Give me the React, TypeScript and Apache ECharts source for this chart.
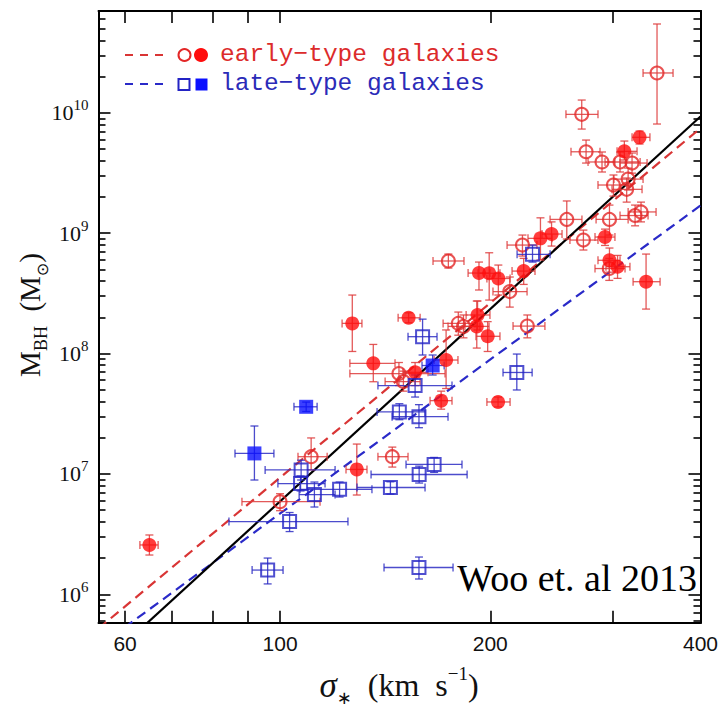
import React, { useEffect, useRef } from 'react';
import * as echarts from 'echarts';

// ---- axis ranges (km/s and solar masses) ----
const SIGMA_MIN = 54.96;
const SIGMA_MAX = 400;
const MBH_MIN = 5.81e5;
const MBH_MAX = 7.0e10;

const X_TICKS = [60, 70, 80, 90, 100, 200, 300, 400];
const X_LABELS = [60, 100, 200, 400];
const Y_MAJOR = [1e6, 1e7, 1e8, 1e9, 1e10];
const Y_MINOR_MULT = [2, 3, 4, 5, 6, 7, 8, 9];
const Y_DECADES = [1e5, 1e6, 1e7, 1e8, 1e9, 1e10];

// each row: [sigma, M_BH, sigmaLow, sigmaHigh, M_low, M_high]
const earlyOpen = [
  [346.6, 2.14e10, 331.0, 365.4, 8.06e9, 5.46e10],
  [270.4, 9.7e9, 256.7, 285.3, 7.32e9, 1.275e10],
  [274.3, 4.74e9, 261.0, 287.2, 3.82e9, 5.93e9],
  [289.1, 3.9e9, 276.1, 301.7, 3.22e9, 4.72e9],
  [306.8, 3.9e9, 292.0, 327.8, 3.22e9, 4.72e9],
  [319.2, 3.82e9, 306.8, 335.4, 3.15e9, 4.63e9],
  [315.1, 2.81e9, 300.7, 331.0, 2.28e9, 3.47e9],
  [300.2, 2.51e9, 285.3, 315.1, 2.03e9, 3.04e9],
  [313.6, 2.31e9, 298.8, 329.9, 1.81e9, 2.87e9],
  [328.8, 1.5e9, 315.1, 345.5, 1.24e9, 1.81e9],
  [322.4, 1.4e9, 306.8, 336.5, 1.15e9, 1.71e9],
  [257.4, 1.3e9, 243.6, 270.6, 8.93e8, 1.85e9],
  [296.3, 1.3e9, 283.5, 315.1, 9.64e8, 1.71e9],
  [271.9, 8.76e8, 260.1, 285.3, 7.24e8, 1.06e9],
  [222.4, 7.96e8, 211.4, 233.3, 6.45e8, 9.64e8],
  [174.2, 5.87e8, 165.6, 183.4, 5.13e8, 6.7e8],
  [213.3, 3.27e8, 201.8, 225.8, 2.43e8, 4.32e8],
  [296.1, 5.08e8, 282.5, 311.9, 4.05e8, 6.17e8],
  [226.0, 1.69e8, 215.6, 239.5, 1.35e8, 2.09e8],
  [180.0, 1.78e8, 171.2, 190.2, 1.42e8, 2.21e8],
  [183.1, 1.68e8, 174.0, 193.3, 1.35e8, 2.09e8],
  [148.0, 6.82e7, 125.9, 172.3, 5.42e7, 8.42e7],
  [150.2, 5.85e7, 141.4, 158.7, 4.87e7, 7.14e7],
  [110.8, 1.39e7, 106.1, 116.8, 1.08e7, 1.99e7],
  [144.8, 1.39e7, 138.1, 152.5, 1.14e7, 1.67e7],
  [100.0, 5.88e6, 88.2, 114.1, 4.95e6, 6.85e6],
];

const earlyFilled = [
  [327.2, 6.25e9, 319.2, 338.6, 5.5e9, 7.05e9],
  [311.2, 4.78e9, 303.8, 324.5, 4.05e9, 5.82e9],
  [244.8, 9.83e8, 237.2, 253.4, 7.81e8, 1.24e9],
  [236.0, 9.05e8, 226.5, 245.2, 5.98e8, 1.34e9],
  [292.0, 9.28e8, 282.5, 301.7, 7.9e8, 1.08e9],
  [192.7, 4.66e8, 185.9, 199.8, 3.37e8, 5.75e8],
  [199.3, 4.64e8, 192.1, 206.5, 2.78e8, 6.87e8],
  [205.4, 4.2e8, 197.8, 213.5, 3.06e8, 5.43e8],
  [223.3, 4.84e8, 214.9, 231.8, 3.75e8, 6.17e8],
  [296.3, 5.95e8, 285.3, 306.8, 4.74e8, 7.52e8],
  [304.3, 5.26e8, 292.9, 317.0, 4.21e8, 6.53e8],
  [334.3, 3.95e8, 320.3, 350.1, 2.34e8, 6.7e8],
  [152.8, 1.98e8, 147.6, 158.7, 1.8e8, 2.18e8],
  [126.9, 1.78e8, 122.7, 131.0, 1.04e8, 3.06e8],
  [191.8, 2.09e8, 184.7, 199.8, 1.57e8, 2.73e8],
  [191.3, 1.68e8, 184.0, 199.2, 1.11e8, 2.73e8],
  [198.3, 1.39e8, 190.8, 206.5, 1.04e8, 1.84e8],
  [136.0, 8.29e7, 125.9, 146.1, 5.83e7, 1.19e8],
  [156.1, 6.98e7, 150.0, 162.9, 5.42e7, 8.42e7],
  [172.9, 8.83e7, 166.2, 179.8, 5.12e7, 1.57e8],
  [170.1, 4.06e7, 164.0, 176.3, 3.45e7, 4.87e7],
  [205.2, 3.96e7, 197.8, 213.5, 3.6e7, 4.35e7],
  [128.8, 1.09e7, 124.3, 133.2, 6.68e6, 1.77e7],
  [65.0, 2.57e6, 63.0, 66.9, 2.12e6, 3.11e6],
];

const lateOpen = [
  [229.9, 6.67e8, 218.5, 243.6, 5.75e8, 7.96e8],
  [160.0, 1.38e8, 152.5, 167.8, 9.72e7, 1.93e8],
  [218.3, 6.96e7, 208.6, 229.6, 4.98e7, 9.9e7],
  [156.1, 5.42e7, 138.1, 176.3, 4.35e7, 6.63e7],
  [148.2, 3.27e7, 137.7, 161.3, 2.82e7, 3.83e7],
  [158.1, 2.99e7, 144.7, 174.0, 2.42e7, 3.76e7],
  [166.2, 1.2e7, 151.5, 182.2, 1.03e7, 1.37e7],
  [158.2, 9.89e6, 135.0, 185.3, 8.4e6, 1.16e7],
  [107.2, 1.08e7, 95.2, 119.9, 8.9e6, 1.3e7],
  [107.0, 8.32e6, 99.3, 116.0, 7.22e6, 9.61e6],
  [112.0, 6.74e6, 106.5, 119.9, 5.31e6, 8.56e6],
  [121.7, 7.45e6, 106.8, 135.4, 6.43e6, 8.56e6],
  [143.9, 7.71e6, 128.9, 161.3, 6.8e6, 8.6e6],
  [103.2, 4.02e6, 84.5, 125.1, 3.32e6, 4.78e6],
  [96.0, 1.59e6, 91.2, 101.0, 1.22e6, 2.0e6],
  [158.1, 1.67e6, 140.9, 176.9, 1.34e6, 2.04e6],
];

const lateFilled = [
  [165.4, 7.95e7, 159.7, 171.8, 6.63e7, 9.72e7],
  [109.0, 3.61e7, 104.7, 113.0, 3.3e7, 3.95e7],
  [91.9, 1.48e7, 86.2, 98.0, 8.9e6, 2.5e7],
];

// fits: log M = alpha + beta * log(sigma / 200)
const FIT_ALL = { alpha: 8.37, beta: 5.31 };
const FIT_EARLY = { alpha: 8.42, beta: 4.82 };
const FIT_LATE = { alpha: 7.95, beta: 4.25 };

const L = Math.log10;
const RED = '#e32727';
const RED_FILL = '#ff0d0d';
const RED_ERR = 'rgba(222,60,60,0.85)';
const BLUE = '#2323c4';
const BLUE_FILL = '#0a10ff';
const BLUE_ERR = 'rgba(45,45,195,0.85)';

function toLog(rows: number[][]) {
  return rows.map((r) => [L(r[0]), L(r[1]), L(r[2]), L(r[3]), L(r[4]), L(r[5])]);
}
function toPts(rows: number[][]) {
  return rows.map((r) => [L(r[0]), L(r[1])]);
}
function fitLine(f: { alpha: number; beta: number }) {
  return [SIGMA_MIN, SIGMA_MAX].map((s) => [L(s), f.alpha + f.beta * L(s / 200)]);
}

const errRender = (color: string) => (params: any, api: any) => {
  const c = api.coord([api.value(0), api.value(1)]);
  const xl = api.coord([api.value(2), api.value(1)]);
  const xh = api.coord([api.value(3), api.value(1)]);
  const yl = api.coord([api.value(0), api.value(4)]);
  const yh = api.coord([api.value(0), api.value(5)]);
  const cap = 4;
  const style = { stroke: color, lineWidth: 1.3, fill: 'none' };
  const seg = (x1: number, y1: number, x2: number, y2: number) => ({
    type: 'line',
    shape: { x1, y1, x2, y2 },
    style,
  });
  return {
    type: 'group',
    children: [
      seg(xl[0], c[1], xh[0], c[1]),
      seg(xl[0], c[1] - cap, xl[0], c[1] + cap),
      seg(xh[0], c[1] - cap, xh[0], c[1] + cap),
      seg(c[0], yl[1], c[0], yh[1]),
      seg(c[0] - cap, yl[1], c[0] + cap, yl[1]),
      seg(c[0] - cap, yh[1], c[0] + cap, yh[1]),
    ],
  };
};

export default function App() {
  const ref = useRef<HTMLDivElement>(null);
  useEffect(() => {
    if (!ref.current) return;
    const chart = echarts.init(ref.current, null, { renderer: 'svg' });
    const xMin = L(SIGMA_MIN);
    const xMax = L(SIGMA_MAX);
    const yMin = L(MBH_MIN);
    const yMax = L(MBH_MAX);
    const yMinor: number[] = [];
    Y_DECADES.forEach((d) =>
      Y_MINOR_MULT.forEach((k) => {
        const v = L(k * d);
        if (v > yMin && v < yMax) yMinor.push(v);
      })
    );
    const axisLine = { show: true, lineStyle: { color: '#000', width: 2 } };
    const xBase = (pos: 'top' | 'bottom', labels: boolean) => ({
      type: 'value',
      position: pos,
      min: xMin,
      max: xMax,
      axisLine,
      splitLine: { show: false },
      axisTick: {
        show: true,
        inside: true,
        length: 12,
        customValues: X_TICKS.map(L),
        lineStyle: { color: '#000', width: 1.6 },
      },
      axisLabel: {
        show: labels,
        customValues: X_LABELS.map(L),
        formatter: (v: number) => String(Math.round(Math.pow(10, v))),
        fontFamily: 'Liberation Sans',
        fontSize: 21,
        color: '#111',
        margin: 10,
      },
    });
    const yBase = (pos: 'left' | 'right', major: boolean, labels: boolean) => ({
      type: 'value',
      position: pos,
      min: yMin,
      max: yMax,
      axisLine,
      splitLine: { show: false },
      axisTick: {
        show: true,
        inside: true,
        length: major ? 12 : 7,
        customValues: major ? Y_MAJOR.map(L) : yMinor,
        lineStyle: { color: '#000', width: 1.6 },
      },
      axisLabel: {
        show: labels,
        customValues: Y_MAJOR.map(L),
        formatter: (v: number) => `{b|10}{s|${Math.round(v)}}`,
        margin: 10,
        rich: {
          b: { fontFamily: 'Liberation Serif', fontSize: 22, lineHeight: 30, color: '#111' },
          s: {
            fontFamily: 'Liberation Serif',
            fontSize: 15,
            lineHeight: 15,
            verticalAlign: 'top',
            color: '#111',
          },
        },
      },
    });

    const option: any = {
      animation: false,
      backgroundColor: '#fff',
      grid: { left: 98.5, right: 20.5, top: 11, bottom: 85.3, containLabel: false },
      xAxis: [xBase('bottom', true), xBase('top', false)],
      yAxis: [
        yBase('left', true, true),
        yBase('left', false, false),
        yBase('right', true, false),
        yBase('right', false, false),
      ],
      series: [
        {
          type: 'line',
          data: fitLine(FIT_EARLY),
          symbol: 'none',
          clip: true,
          z: 1,
          lineStyle: { color: '#d93535', width: 2.2, type: [10, 6] },
        },
        {
          type: 'line',
          data: fitLine(FIT_LATE),
          symbol: 'none',
          clip: true,
          z: 1,
          lineStyle: { color: '#2a2ac8', width: 2.2, type: [10, 6] },
        },
        {
          type: 'line',
          data: fitLine(FIT_ALL),
          symbol: 'none',
          clip: true,
          z: 1,
          lineStyle: { color: '#000', width: 2.2 },
        },
        ...[
          [earlyOpen, RED_ERR],
          [earlyFilled, RED_ERR],
          [lateOpen, BLUE_ERR],
          [lateFilled, BLUE_ERR],
        ].map(([rows, col]: any) => ({
          type: 'custom',
          z: 2,
          renderItem: errRender(col),
          encode: { x: [0, 2, 3], y: [1, 4, 5] },
          data: toLog(rows),
        })),
        {
          type: 'scatter',
          z: 3,
          symbol: 'circle',
          symbolSize: 13,
          data: toPts(earlyOpen),
          itemStyle: { color: 'rgba(255,255,255,0)', borderColor: RED, borderWidth: 2 },
        },
        {
          type: 'scatter',
          z: 3,
          symbol: 'circle',
          symbolSize: 14,
          data: toPts(earlyFilled),
          itemStyle: { color: RED_FILL },
        },
        {
          type: 'scatter',
          z: 3,
          symbol: 'rect',
          symbolSize: 13,
          data: toPts(lateOpen),
          itemStyle: { color: 'rgba(255,255,255,0)', borderColor: BLUE, borderWidth: 2 },
        },
        {
          type: 'scatter',
          z: 4,
          symbol: 'rect',
          symbolSize: 14,
          data: toPts(lateFilled),
          itemStyle: { color: BLUE_FILL },
        },
      ],
      graphic: [
        // legend
        {
          type: 'line',
          shape: { x1: 125, y1: 55, x2: 163, y2: 55 },
          style: { stroke: '#d93535', lineWidth: 2, lineDash: [8, 7] },
        },
        {
          type: 'circle',
          shape: { cx: 184.5, cy: 55, r: 6 },
          style: { stroke: RED, lineWidth: 2, fill: 'none' },
        },
        { type: 'circle', shape: { cx: 201, cy: 55, r: 7 }, style: { fill: RED_FILL } },
        {
          type: 'text',
          x: 220,
          y: 54,
          style: {
            text: 'early\u2212type galaxies',
            fontFamily: 'Liberation Mono',
            fontSize: 24.5,
            fill: '#dc2b2b',
            verticalAlign: 'middle',
          },
        },
        {
          type: 'line',
          shape: { x1: 125, y1: 84, x2: 163, y2: 84 },
          style: { stroke: '#2a2ac8', lineWidth: 2, lineDash: [8, 7] },
        },
        {
          type: 'rect',
          shape: { x: 178.5, y: 79, width: 11, height: 11 },
          style: { stroke: BLUE, lineWidth: 2, fill: 'none' },
        },
        {
          type: 'rect',
          shape: { x: 195.5, y: 78.5, width: 12, height: 12 },
          style: { fill: BLUE_FILL },
        },
        {
          type: 'text',
          x: 220,
          y: 83,
          style: {
            text: 'late\u2212type galaxies',
            fontFamily: 'Liberation Mono',
            fontSize: 24.5,
            fill: '#2b2bb8',
            verticalAlign: 'middle',
          },
        },
        // annotation
        {
          type: 'text',
          x: 697,
          y: 578,
          z: 10,
          style: {
            text: 'Woo et. al 2013',
            fontFamily: 'Liberation Serif',
            fontSize: 38,
            fill: '#000',
            align: 'right',
            verticalAlign: 'middle',
          },
        },
        // y axis title
        {
          type: 'text',
          x: 30,
          y: 315,
          rotation: Math.PI / 2,
          style: {
            text: '{m|M}{s|BH}{m|  (M}{o|\u2299}{m|)}',
            align: 'center',
            verticalAlign: 'middle',
            rich: {
              m: { fontFamily: 'Liberation Serif', fontSize: 29, lineHeight: 40, fill: '#111' },
              s: {
                fontFamily: 'Liberation Serif',
                fontSize: 18,
                lineHeight: 18,
                verticalAlign: 'bottom',
                fill: '#111',
              },
              o: {
                fontFamily: 'DejaVu Sans',
                fontSize: 16,
                lineHeight: 18,
                verticalAlign: 'bottom',
                fill: '#111',
              },
            },
          },
        },
        // x axis title
        {
          type: 'text',
          x: 399,
          y: 685,
          style: {
            text: '{i|\u03c3}{s|\u2217}{m|  (km  s}{p|\u22121}{m|)}',
            align: 'center',
            verticalAlign: 'middle',
            rich: {
              i: {
                fontFamily: 'Liberation Serif',
                fontStyle: 'italic',
                fontSize: 35,
                lineHeight: 42,
                fill: '#111',
              },
              m: { fontFamily: 'Liberation Serif', fontSize: 32, lineHeight: 42, fill: '#111' },
              s: {
                fontFamily: 'DejaVu Sans',
                fontSize: 18,
                lineHeight: 19,
                verticalAlign: 'bottom',
                fill: '#111',
              },
              p: {
                fontFamily: 'Liberation Serif',
                fontSize: 19,
                lineHeight: 19,
                verticalAlign: 'top',
                fill: '#111',
              },
            },
          },
        },
      ],
    };
    chart.setOption(option);
    return () => chart.dispose();
  }, []);
  return (
    <div
      ref={ref}
      style={{ position: 'fixed', left: 0, top: 0, width: 721, height: 708, background: '#fff' }}
    />
  );
}
